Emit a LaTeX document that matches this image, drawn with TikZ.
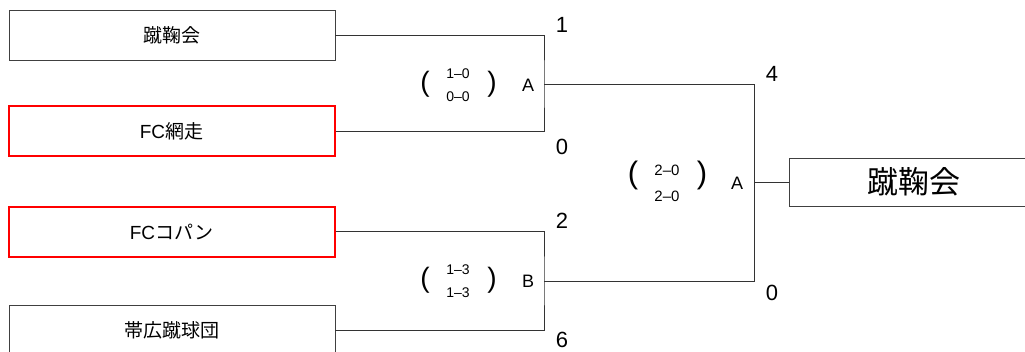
\documentclass[tikz,border=0pt]{standalone}
\usepackage{fontspec}
\setmainfont{Liberation Sans}
\newfontfamily\jpfont{Noto Sans CJK JP}
\tikzset{
  team/.style={draw=black!75, line width=0.8pt, minimum width=326pt, minimum height=50pt, inner sep=0pt, font=\fontsize{19}{21}\selectfont},
  marked/.style={team, draw=red, line width=2pt},
  bracket/.style={draw=black!80, line width=0.8pt},
  goals/.style={inner sep=0pt, font=\fontsize{22}{24}\selectfont},
  winner/.style={inner sep=0pt, font=\fontsize{18}{20}\selectfont},
  halves/.style={inner sep=0pt, font=\fontsize{14}{16}\selectfont},
  paren/.style={inner sep=0pt, font=\fontsize{28}{30}\selectfont}
}

\begin{document}
\begin{tikzpicture}[x=1pt, y=-1pt]
    \useasboundingbox (0,0) rectangle (1025,351);

    % teams
    \node (t1) at (172, 35) [team] {\jpfont 蹴鞠会};
    \node (t2) at (171.5, 131) [marked] {FC\jpfont 網走};
    \node (t3) at (171.5, 231.5) [marked] {FC\jpfont コパン};
    \node (t4) at (172, 330) [team] {\jpfont 帯広蹴球団};

    % semi finals
    \coordinate (s1) at (544, 84.5);
    \coordinate (s2) at (544, 281);
    \draw[bracket] (t1.east) -| (s1) |- (t2.east);
    \draw[bracket] (t3.east) -| (s2) |- (t4.east);

    % final
    \coordinate (f1) at (754, 182);
    \draw[bracket] (s1) -| (f1) |- (s2);
    \node (champ) at (789, 182) [team, anchor=west, minimum width=250pt, minimum height=48pt, font=\fontsize{31}{33}\selectfont] {\jpfont 蹴鞠会};
    \draw[bracket] (f1) -- (champ.west);

    % goals
    \node (g1) at (562, 24.5) [goals] {1};
    \node (g2) at (562, 147) [goals] {0};
    \node (g3) at (562, 221) [goals] {2};
    \node (g4) at (562, 340) [goals] {6};
    \node (g5) at (772, 73.5) [goals] {4};
    \node (g6) at (772, 293) [goals] {0};

    % half time scores
    \node (p1) at (425, 84) [paren] {(};
    \node (h1a) at (458, 73.5) [halves] {1--0};
    \node (h1b) at (458, 96.5) [halves] {0--0};
    \node (q1) at (492, 84) [paren] {)};
    \node (w1) at (528, 85) [winner] {A};

    \node (p2) at (425, 280) [paren] {(};
    \node (h2a) at (458, 269.5) [halves] {1--3};
    \node (h2b) at (458, 292.5) [halves] {1--3};
    \node (q2) at (492, 280) [paren] {)};
    \node (w2) at (528, 281) [winner] {B};

    \node (p3) at (633, 175) [paren, font=\fontsize{31}{33}\selectfont] {(};
    \node (h3a) at (667, 170) [halves, font=\fontsize{15}{17}\selectfont] {2--0};
    \node (h3b) at (667, 196) [halves, font=\fontsize{15}{17}\selectfont] {2--0};
    \node (q3) at (702, 175) [paren, font=\fontsize{31}{33}\selectfont] {)};
    \node (w3) at (737, 183) [winner] {A};
\end{tikzpicture}
\end{document}
